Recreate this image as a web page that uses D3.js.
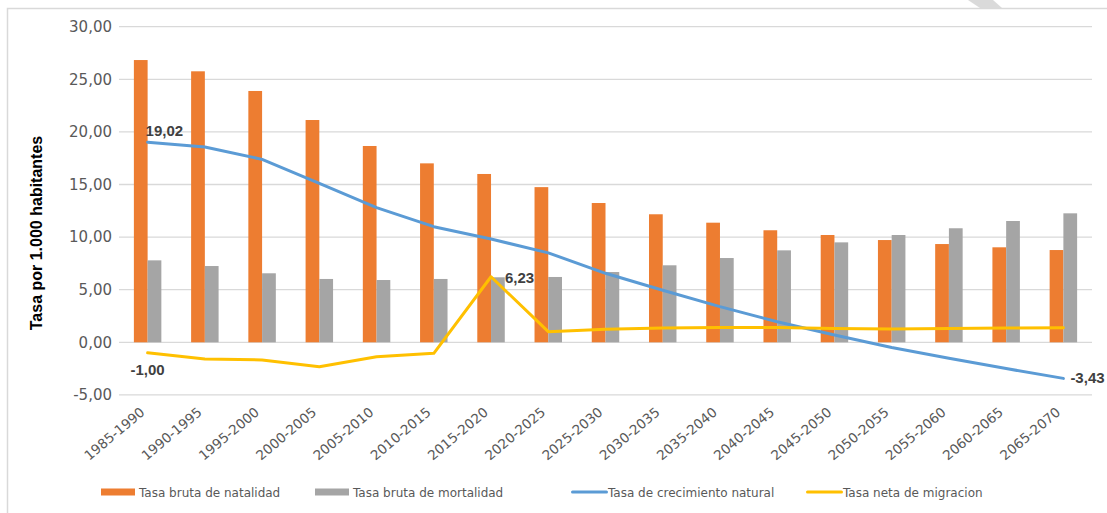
<!DOCTYPE html>
<html>
<head>
<meta charset="utf-8">
<script src="https://cdn.jsdelivr.net/npm/d3@7"></script>
<style>
  body { margin: 0; background: #fff; }
  svg { display: block; font-family: "DejaVu Sans", sans-serif; }
</style>
</head>
<body>
<svg id="chart" width="1107" height="513"></svg>
<script>
const periods = ['1985-1990', '1990-1995', '1995-2000', '2000-2005', '2005-2010', '2010-2015',
  '2015-2020', '2020-2025', '2025-2030', '2030-2035', '2035-2040', '2040-2045', '2045-2050',
  '2050-2055', '2055-2060', '2060-2065', '2065-2070'];

const natalidad = [26.83, 25.76, 23.89, 21.13, 18.66, 17.01, 16.00, 14.75, 13.24, 12.17, 11.37, 10.65, 10.20, 9.72, 9.34, 9.03, 8.77];
const mortalidad = [7.79, 7.25, 6.56, 6.02, 5.92, 6.02, 6.18, 6.21, 6.68, 7.32, 8.01, 8.74, 9.50, 10.20, 10.84, 11.53, 12.26];
const crecimiento = [19.02, 18.56, 17.39, 15.10, 12.80, 10.99, 9.82, 8.50, 6.56, 4.95, 3.39, 1.96, 0.70, -0.50, -1.52, -2.50, -3.43];
const migracion = [-1.00, -1.59, -1.68, -2.32, -1.37, -1.05, 6.23, 1.01, 1.23, 1.36, 1.40, 1.40, 1.30, 1.27, 1.30, 1.35, 1.39];

const yTicks = [-5, 0, 5, 10, 15, 20, 25, 30];
const yTitle = 'Tasa por 1.000 habitantes';
const legendNames = ['Tasa bruta de natalidad', 'Tasa bruta de mortalidad', 'Tasa de crecimiento natural', 'Tasa neta de migracion'];

const colors = { nat: '#ED7D31', mort: '#A5A5A5', crec: '#5B9BD5', mig: '#FFC000' };

const fmt = d3.formatLocale({ decimal: ',', thousands: '.', grouping: [3], currency: ['', ''], minus: '-' }).format('.2f');

const svg = d3.select('#chart');

// outer frame of the chart
svg.append('rect')
  .attr('x', 7.5).attr('y', 8.5)
  .attr('width', 1120).attr('height', 520)
  .attr('fill', 'none').attr('stroke', '#D9D9D9').attr('stroke-width', 1.5);
svg.append('polygon')
  .attr('points', '968,0 993,0 1002,8 980,8')
  .attr('fill', '#DADADA');

const x0 = d3.scaleBand().domain(periods).range([119, 1092]).paddingInner(0.52).paddingOuter(0.26);
const x1 = d3.scaleBand().domain(['nat', 'mort']).range([0, x0.bandwidth()]);
const y = d3.scaleLinear().domain([-5, 30]).range([394.9, 26.7]);
const cx = p => x0(p) + x0.bandwidth() / 2;

// gridlines
svg.append('g')
  .selectAll('line').data(yTicks).join('line')
  .attr('x1', 119).attr('x2', 1092)
  .attr('y1', d => y(d)).attr('y2', d => y(d))
  .attr('stroke', '#D9D9D9').attr('stroke-width', 1.3);

// y axis labels
const yAxis = svg.append('g')
  .attr('transform', 'translate(119,0)')
  .call(d3.axisLeft(y).tickValues(yTicks).tickFormat(fmt).tickSize(0).tickPadding(7));
yAxis.select('.domain').remove();
yAxis.selectAll('text').attr('font-size', 15).attr('fill', '#595959').attr('font-family', '"DejaVu Sans", sans-serif');

svg.append('text')
  .attr('transform', 'translate(42,233) rotate(-90)')
  .attr('text-anchor', 'middle')
  .attr('font-size', 16).attr('font-weight', 'bold')
  .attr('font-family', '"Liberation Sans", Arial, sans-serif')
  .attr('fill', '#000')
  .text(yTitle);

// x axis labels
const xAxis = svg.append('g')
  .attr('transform', 'translate(-5,410)')
  .call(d3.axisBottom(x0).tickSize(0).tickPadding(0));
xAxis.select('.domain').remove();
xAxis.selectAll('text')
  .attr('font-size', 13.5).attr('fill', '#595959').attr('font-family', '"DejaVu Sans", sans-serif')
  .attr('text-anchor', 'end')
  .attr('dy', '0.35em')
  .attr('transform', 'rotate(-40)');

// bars
const rows = periods.map((p, i) => ({ p, nat: natalidad[i], mort: mortalidad[i] }));
const groups = svg.append('g').selectAll('g').data(rows).join('g')
  .attr('transform', d => `translate(${x0(d.p)},0)`);
groups.selectAll('rect')
  .data(d => ['nat', 'mort'].map(k => ({ k, v: d[k] })))
  .join('rect')
  .attr('x', d => x1(d.k))
  .attr('width', x1.bandwidth())
  .attr('y', d => y(d.v))
  .attr('height', d => y(0) - y(d.v))
  .attr('fill', d => colors[d.k]);

// lines
const line = d3.line().x(d => cx(d.p)).y(d => y(d.v));
const crecPts = periods.map((p, i) => ({ p, v: crecimiento[i] }));
const migPts = periods.map((p, i) => ({ p, v: migracion[i] }));
svg.append('path').datum(crecPts).attr('d', line)
  .attr('fill', 'none').attr('stroke', colors.crec).attr('stroke-width', 3)
  .attr('stroke-linejoin', 'round').attr('stroke-linecap', 'round');
svg.append('path').datum(migPts).attr('d', line)
  .attr('fill', 'none').attr('stroke', colors.mig).attr('stroke-width', 3)
  .attr('stroke-linejoin', 'round').attr('stroke-linecap', 'round');

// data labels
const labels = [
  { pts: crecPts, i: 0, dx: -2, dy: -6, anchor: 'start' },
  { pts: crecPts, i: 16, dx: 7, dy: 5, anchor: 'start' },
  { pts: migPts, i: 0, dx: 0, dy: 22, anchor: 'middle' },
  { pts: migPts, i: 6, dx: 14, dy: 6, anchor: 'start' }
];
svg.append('g').selectAll('text').data(labels).join('text')
  .attr('x', d => cx(d.pts[d.i].p) + d.dx)
  .attr('y', d => y(d.pts[d.i].v) + d.dy)
  .attr('text-anchor', d => d.anchor)
  .attr('font-family', '"Liberation Sans", Arial, sans-serif')
  .attr('font-size', 15).attr('font-weight', 'bold').attr('fill', '#404040')
  .text(d => fmt(d.pts[d.i].v));

// legend
const legendX = [101, 315, 571, 806];
const legendKinds = [
  { c: colors.nat, bar: true }, { c: colors.mort, bar: true },
  { c: colors.crec, bar: false }, { c: colors.mig, bar: false }
];
const lg = svg.append('g').selectAll('g').data(legendNames).join('g')
  .attr('transform', (d, i) => `translate(${legendX[i]},492)`);
lg.append('rect')
  .attr('x', 0).attr('width', (d, i) => legendKinds[i].bar ? 34 : 37)
  .attr('y', (d, i) => legendKinds[i].bar ? -3.5 : -1.5)
  .attr('height', (d, i) => legendKinds[i].bar ? 7 : 3)
  .attr('rx', (d, i) => legendKinds[i].bar ? 0 : 1.5)
  .attr('fill', (d, i) => legendKinds[i].c);
lg.append('text')
  .attr('x', (d, i) => legendKinds[i].bar ? 38 : 37)
  .attr('y', 4.5)
  .attr('font-size', 12).attr('fill', '#595959')
  .text(d => d);
</script>
</body>
</html>
